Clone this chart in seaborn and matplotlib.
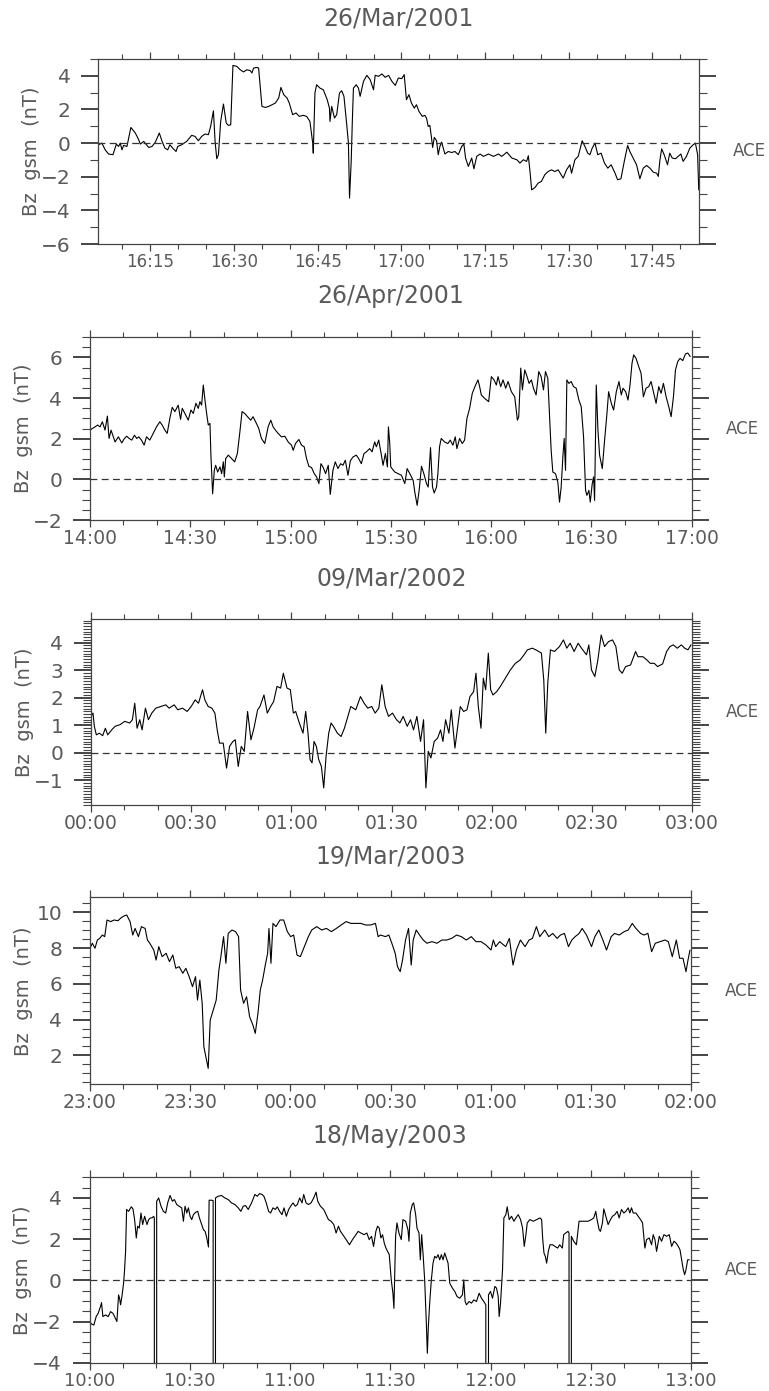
import numpy as np
import pandas as pd
import matplotlib
matplotlib.use("Agg")
import matplotlib.pyplot as plt
from matplotlib.ticker import MultipleLocator, FuncFormatter
import seaborn as sns

# ---------------- data (minutes after the start hour, Bz gsm in nT) ----------------
titles = ["26/Mar/2001", "26/Apr/2001", "09/Mar/2002", "19/Mar/2003", "18/May/2003"]
base_hours = [16, 14, 0, 23, 10]
FILL = -999.9

p1_t = [5.7, 6.3, 6.9, 7.5, 8.3, 8.9, 9.3, 9.6, 9.9, 10.2, 10.8, 11.5, 12.3, 12.9, 13.2, 13.8, 14.7, 15.3, 15.9,
        16.6, 17.1, 17.6, 18.1, 18.5, 19.0, 19.6, 19.9, 20.6, 21.5, 22.4, 23.0, 23.6, 24.2, 24.8, 25.4, 25.8,
        26.3, 26.6, 26.9, 27.2, 27.6, 28.1, 28.6, 29.0, 29.4, 29.8, 30.5, 31.1, 31.7, 32.3, 32.9, 33.2, 33.5,
        34.1, 34.4, 35.0, 35.6, 36.2, 36.8, 37.4, 38.0, 38.4, 38.9, 39.5, 39.9, 40.5, 41.1, 41.7, 42.4, 43.0,
        43.6, 44.1, 44.2, 44.5, 44.8, 45.4, 46.0, 46.7, 47.1, 47.2, 47.5, 48.0, 48.4, 48.9, 49.3, 49.7, 50.2,
        50.5, 50.7, 51.0, 51.2, 51.4, 51.9, 52.3, 52.6, 53.2, 53.8, 54.4, 55.0, 55.3, 55.9, 56.5, 57.1, 57.7,
        58.3, 58.9, 59.45, 60.05, 60.5, 60.9, 61.35, 61.8, 62.3, 62.7, 63.15, 63.75, 64.2, 64.5, 64.8, 65.1,
        65.4, 65.6, 65.9, 66.3, 66.6, 66.9, 67.2, 67.8, 68.4, 69.0, 69.6, 70.2, 70.8, 71.2, 71.5, 72.0, 72.6,
        73.0, 73.5, 74.1, 74.7, 75.6, 76.5, 77.4, 78.0, 78.9, 79.8, 80.7, 81.25, 81.85, 82.45, 82.75, 83.05,
        83.35, 83.95, 84.5, 85.1, 85.7, 86.3, 86.9, 87.5, 88.1, 89.0, 89.6, 90.2, 90.5, 91.1, 91.7, 92.0, 92.4,
        92.9, 93.4, 93.8, 94.2, 94.7, 95.2, 95.8, 96.4, 97.0, 97.6, 98.3, 98.75, 99.35, 99.95, 100.55, 100.95,
        101.55, 102.15, 102.75, 103.35, 103.95, 104.55, 105.15, 105.75, 106.05, 106.35, 106.65, 107.1, 107.7,
        108.1, 108.55, 109.15, 109.6, 110.1, 110.5, 111.1, 111.7, 112.3, 112.7, 113.1, 113.3]
p1_bz = [-0.10, 0.0, -0.40, -0.65, -0.69, -0.06, -0.20, 0.0, -0.40, -0.14, -0.20, 0.93, 0.60, 0.20, -0.06, 0.10,
         -0.26, -0.20, 0.06, 0.60, 0.10, -0.30, -0.40, -0.10, -0.30, -0.50, -0.20, -0.10, 0.10, 0.46, 0.40, 0.14,
         0.40, 0.54, 0.50, 0.99, 1.92, 0.10, -0.93, -0.69, 1.29, 2.32, 1.19, 1.05, 1.09, 4.62, 4.56, 4.36, 4.23,
         4.36, 4.31, 4.17, 4.46, 4.50, 4.46, 2.18, 2.12, 2.18, 2.28, 2.38, 2.68, 3.31, 2.88, 2.68, 2.38, 1.69,
         1.79, 1.59, 1.65, 1.59, 1.29, 0.0, -0.60, 2.98, 3.47, 3.27, 3.17, 2.58, 2.08, 1.29, 2.18, 1.49, 1.69,
         2.98, 3.11, 2.78, 1.09, 0.0, -3.27, -1.09, 1.29, 3.27, 3.47, 3.27, 2.78, 3.67, 4.03, 3.77, 3.17, 4.03,
         3.97, 4.11, 3.91, 4.03, 3.67, 3.43, 3.87, 3.83, 4.07, 2.58, 2.88, 2.38, 2.08, 2.28, 1.88, 1.59, 1.65,
         1.49, 0.99, 1.05, 0.30, -0.26, 0.34, 0.14, -0.69, -0.20, 0.06, -0.65, -0.50, -0.56, -0.50, -0.69, -0.20,
         -0.06, -0.89, -1.39, -0.89, -1.53, -0.79, -0.65, -0.79, -0.65, -0.79, -0.65, -0.79, -0.54, -0.89, -0.99,
         -1.19, -0.99, -1.09, -0.75, -1.69, -2.78, -2.64, -2.38, -2.28, -1.88, -1.69, -1.59, -1.69, -1.59, -2.08,
         -1.59, -1.29, -1.79, -0.99, -0.79, -0.40, 0.14, -0.20, -0.60, -0.69, -0.30, 0.0, -0.69, -0.60, -1.19,
         -1.49, -1.29, -1.79, -2.18, -2.12, -1.09, -0.14, -0.50, -0.89, -1.29, -2.12, -1.49, -1.33, -1.49, -1.73,
         -1.79, -1.98, -0.99, -0.34, -0.69, -1.29, -0.60, -0.89, -0.93, -0.79, -0.65, -1.09, -0.79, -0.30, -0.10,
         0.0, -0.69, -2.78]

p2_t = [0.0, 0.7, 1.5, 2.3, 3.0, 3.7, 4.5, 5.2, 5.7, 6.3, 7.0, 7.5, 8.5, 9.5, 10.3, 11.0, 11.7, 12.5, 13.3, 14.0,
        14.6, 15.4, 16.2, 16.9, 17.9, 18.9, 19.9, 20.9, 21.6, 22.4, 23.1, 23.9, 24.6, 25.4, 26.4, 27.1, 27.6,
        28.4, 29.4, 30.2, 30.9, 31.7, 32.4, 32.9, 33.4, 33.9, 34.4, 34.9, 35.4, 35.9, 36.2, 36.7, 37.2, 37.6,
        38.2, 38.9, 39.4, 39.9, 40.2, 40.6, 41.4, 42.4, 43.3, 44.1, 44.8, 45.5, 46.3, 47.3, 48.1, 48.8, 49.8,
        50.5, 51.3, 52.3, 53.3, 54.1, 54.8, 55.5, 56.3, 57.3, 58.3, 59.3, 60.3, 60.8, 61.5, 62.5, 63.3, 64.1,
        64.8, 65.5, 66.3, 67.1, 67.8, 68.5, 69.1, 69.8, 70.5, 71.3, 71.9, 72.7, 73.4, 74.2, 75.0, 75.7, 76.4,
        77.2, 77.9, 78.7, 79.7, 80.4, 81.2, 82.0, 82.7, 83.7, 84.4, 85.2, 85.7, 86.4, 87.2, 87.7, 88.4, 89.0,
        89.3, 89.7, 90.0, 91.2, 92.2, 93.2, 94.2, 94.9, 95.7, 96.7, 97.2, 97.9, 98.5, 99.2, 99.9, 100.7, 101.2,
        101.9, 102.5, 103.0, 103.7, 104.1, 104.6, 105.1, 106.1, 107.1, 107.8, 108.6, 109.3, 109.8, 110.6, 111.4,
        112.1, 112.8, 113.6, 114.4, 115.4, 116.1, 116.6, 117.1, 118.1, 119.3, 120.1, 120.9, 121.6, 122.1, 122.9,
        123.6, 124.4, 125.1, 126.1, 127.1, 127.9, 128.3, 128.9, 129.4, 130.1, 130.8, 131.4, 132.1, 132.7, 133.5,
        134.3, 135.0, 135.7, 136.3, 137.0, 137.5, 138.0, 138.5, 139.3, 140.0, 140.5, 141.0, 141.5, 141.9, 142.3,
        142.7, 143.3, 144.0, 144.7, 145.5, 146.3, 147.0, 147.7, 148.3, 148.7, 149.3, 149.7, 150.3, 150.7, 151.0,
        151.5, 152.0, 152.5, 153.3, 154.0, 154.7, 155.2, 156.0, 156.7, 157.5, 158.3, 159.0, 159.5, 160.3, 161.0,
        161.6, 162.2, 162.7, 163.4, 164.2, 164.9, 165.6, 166.4, 167.2, 167.9, 168.6, 169.4, 170.2, 170.9, 171.6,
        172.4, 173.2, 173.9, 174.6, 175.2, 175.9, 176.6, 177.4, 178.2, 178.9, 179.6]
p2_bz = [2.42, 2.50, 2.58, 2.67, 2.58, 2.83, 2.42, 3.11, 2.01, 2.42, 2.09, 1.84, 2.09, 1.79, 2.01, 2.12, 2.01, 1.93,
         2.17, 2.01, 2.09, 1.93, 1.68, 2.09, 1.93, 2.26, 2.58, 2.83, 2.67, 2.42, 2.26, 3.00, 3.54, 3.33, 3.65, 2.95,
         3.49, 3.24, 2.91, 3.41, 3.24, 3.74, 3.49, 3.82, 3.65, 4.64, 3.90, 3.24, 2.67, 2.75, 1.10, -0.71, 0.44,
         0.69, 0.36, 0.61, 0.28, 0.86, 0.12, 1.02, 1.19, 1.02, 0.86, 1.27, 2.26, 3.33, 3.24, 3.05, 2.91, 3.08,
         2.75, 2.50, 2.01, 1.76, 2.58, 2.91, 2.58, 2.42, 2.26, 2.09, 2.12, 1.84, 1.68, 1.43, 1.76, 1.96, 1.68,
         1.60, 1.02, 0.64, 0.58, 0.28, 0.12, -0.21, 0.77, 0.58, 0.28, 0.69, -0.74, 0.44, 0.86, 0.53, 0.77, 0.69,
         0.94, 0.20, 0.91, 1.10, 1.19, 1.02, 0.77, 1.27, 1.35, 1.51, 1.35, 1.84, 1.60, 1.93, 1.19, 0.69, 1.27,
         0.61, 2.58, 1.76, 0.61, 0.36, 0.28, 0.20, -0.21, 0.53, 0.28, -0.05, -0.63, -1.28, -0.54, 0.64, 0.28,
         -0.21, -0.38, 1.56, -0.38, -0.67, -0.38, 0.28, 1.60, 2.01, 1.84, 1.76, 1.93, 1.68, 2.09, 1.51, 2.01,
         1.76, 1.93, 3.00, 3.49, 4.23, 4.64, 4.89, 4.56, 4.15, 3.98, 3.82, 5.05, 4.89, 4.64, 5.05, 4.56, 4.89,
         4.48, 4.81, 4.31, 4.06, 2.91, 3.08, 5.47, 4.40, 5.38, 5.05, 4.72, 4.89, 4.48, 4.15, 5.30, 5.05, 4.40,
         5.30, 4.97, 3.24, 1.43, 0.36, 0.28, -0.13, -1.12, -0.38, 1.10, 2.01, 0.44, 4.89, 4.72, 4.81, 4.56, 4.48,
         3.90, 3.57, 2.09, -0.54, -0.79, -0.54, -1.12, -0.21, 0.12, -1.04, 4.64, 2.42, 1.19, 0.53, 1.93, 3.24,
         4.31, 3.74, 3.41, 4.31, 4.81, 4.15, 4.48, 4.31, 3.90, 4.64, 5.71, 6.12, 5.95, 5.55, 5.22, 4.06, 4.48,
         4.56, 4.81, 4.31, 3.74, 4.56, 4.23, 4.72, 4.06, 3.57, 3.08, 4.06, 5.38, 5.80, 5.95, 5.84, 6.17, 6.21,
         6.04]

p3_t = [0.0, 0.6, 1.0, 1.6, 2.5, 3.5, 4.3, 5.0, 6.2, 7.2, 8.7, 10.1, 11.6, 12.4, 13.1, 13.8, 14.6, 15.3, 16.3,
        17.2, 18.2, 19.4, 20.9, 22.4, 23.4, 24.9, 26.0, 27.4, 28.8, 30.0, 31.2, 32.2, 33.4, 34.1, 35.1, 36.2,
        37.1, 37.8, 38.5, 39.6, 40.6, 41.5, 42.5, 43.2, 44.1, 45.0, 45.9, 46.9, 47.9, 48.8, 49.9, 50.6, 51.8,
        52.8, 53.8, 54.7, 55.7, 56.8, 57.6, 58.7, 59.7, 60.6, 61.3, 62.4, 63.5, 64.3, 65.0, 65.6, 66.2, 66.8,
        67.5, 68.2, 69.0, 69.7, 70.4, 71.2, 71.9, 72.6, 73.8, 74.9, 75.9, 76.8, 77.8, 79.3, 80.7, 81.8, 82.9,
        84.1, 85.1, 86.2, 87.1, 88.1, 89.1, 90.3, 91.5, 92.5, 93.5, 94.7, 95.7, 96.6, 97.6, 98.7, 99.6, 100.3,
        101.0, 101.8, 102.8, 103.8, 104.7, 105.4, 106.2, 107.2, 107.9, 109.0, 109.7, 110.6, 111.6, 112.6, 113.5,
        114.6, 115.3, 116.0, 116.8, 117.5, 118.2, 119.0, 119.7, 120.4, 121.5, 122.6, 124.1, 125.6, 127.1, 128.5,
        129.7, 130.7, 132.2, 133.7, 134.9, 135.6, 136.2, 136.8, 137.6, 138.8, 140.3, 141.5, 142.5, 143.5, 144.7,
        145.9, 146.9, 148.4, 149.1, 149.9, 150.9, 151.8, 152.8, 153.8, 155.0, 156.2, 157.2, 158.2, 159.1, 160.1,
        161.6, 163.1, 163.8, 165.3, 166.5, 167.5, 168.7, 169.7, 171.2, 172.4, 173.4, 174.4, 175.6, 176.8, 177.8,
        178.8, 179.7]
p3_bz = [1.32, 1.44, 0.96, 0.65, 0.71, 0.62, 0.89, 0.65, 0.83, 0.96, 1.02, 1.14, 1.08, 1.20, 1.80, 0.89, 1.20, 0.83,
         1.62, 1.20, 1.44, 1.62, 1.68, 1.74, 1.62, 1.74, 1.56, 1.62, 1.50, 1.68, 1.92, 1.80, 2.29, 1.92, 1.68, 1.62,
         1.44, 0.83, 0.35, 0.35, -0.56, 0.23, 0.41, 0.47, -0.50, 0.23, 0.05, 1.50, 0.47, 0.89, 1.56, 1.68, 2.10,
         1.44, 1.68, 1.86, 2.41, 2.35, 2.89, 2.35, 2.29, 1.44, 1.50, 1.08, 0.71, 1.50, 0.71, -0.25, -0.37, 0.41,
         0.23, -0.25, -0.50, -1.28, -0.13, 0.71, 1.08, 0.96, 0.71, 0.59, 0.89, 1.26, 1.68, 1.56, 2.04, 1.80, 1.62,
         1.68, 1.44, 1.62, 2.47, 1.68, 1.32, 1.44, 1.20, 1.08, 1.32, 0.96, 1.20, 0.83, 1.32, 0.41, 1.20, -1.28,
         0.05, -0.19, 0.41, 0.53, 0.83, 0.41, 1.20, 0.71, 1.56, 0.17, 0.83, 1.68, 1.50, 1.56, 2.04, 2.22, 2.89,
         1.68, 0.89, 2.71, 2.29, 3.62, 2.29, 2.10, 2.22, 2.41, 2.71, 3.01, 3.25, 3.37, 3.56, 3.74, 3.80, 3.71,
         3.62, 2.65, 0.71, 2.53, 3.74, 3.68, 3.86, 4.10, 3.80, 3.98, 3.68, 3.98, 3.80, 3.56, 3.92, 3.01, 2.77,
         3.37, 4.28, 3.86, 4.04, 4.10, 3.86, 3.01, 2.89, 3.13, 3.19, 3.68, 3.49, 3.49, 3.37, 3.25, 3.25, 3.13,
         3.23, 3.68, 3.86, 3.92, 3.80, 3.92, 3.80, 3.74, 3.92]

p4_t = [0.0, 0.7, 1.5, 2.2, 2.9, 3.7, 4.4, 5.1, 6.2, 7.2, 8.4, 9.1, 10.1, 11.0, 12.0, 12.8, 13.5, 14.5, 15.4, 16.5,
        17.2, 17.9, 19.1, 19.8, 20.6, 21.6, 22.8, 23.8, 24.8, 25.7, 26.7, 27.8, 28.7, 29.7, 30.7, 31.6, 32.2,
        32.9, 33.6, 34.1, 34.8, 35.4, 36.0, 36.6, 37.8, 38.6, 39.2, 40.0, 40.7, 41.4, 42.5, 43.6, 44.5, 45.1,
        46.0, 46.9, 47.8, 48.8, 49.5, 50.3, 51.0, 51.7, 52.5, 53.2, 53.6, 54.2, 54.8, 55.7, 56.9, 58.0, 59.1,
        60.1, 61.0, 62.0, 63.0, 64.2, 65.4, 66.4, 67.9, 69.4, 70.8, 72.3, 73.8, 75.2, 76.7, 78.2, 79.6, 81.1,
        82.6, 84.0, 85.5, 86.3, 87.0, 88.5, 89.5, 90.4, 91.4, 92.1, 92.9, 93.6, 94.5, 95.4, 96.2, 96.8, 97.7,
        98.7, 99.8, 100.9, 102.4, 103.9, 105.4, 106.8, 108.3, 109.8, 111.2, 112.7, 114.2, 115.6, 117.1, 118.6,
        120.1, 120.8, 121.5, 122.7, 124.5, 125.6, 126.7, 127.7, 128.9, 130.3, 131.5, 132.5, 133.7, 134.7, 136.2,
        137.4, 138.6, 139.9, 140.9, 142.1, 143.3, 144.3, 145.3, 146.5, 147.4, 148.7, 150.2, 151.2, 152.4, 153.6,
        154.7, 156.1, 157.1, 158.5, 160.0, 161.2, 162.4, 163.5, 164.9, 165.9, 167.1, 168.2, 169.3, 170.7, 172.2,
        173.2, 174.4, 175.6, 176.6, 177.6, 178.5, 179.1, 179.7]
p4_bz = [7.99, 8.27, 7.99, 8.45, 8.54, 8.73, 8.64, 9.57, 9.48, 9.57, 9.53, 9.66, 9.79, 9.85, 9.48, 8.73, 9.10, 8.64,
         9.20, 9.10, 8.45, 8.27, 7.89, 7.33, 8.08, 7.52, 7.71, 7.24, 7.61, 6.87, 6.96, 6.59, 6.87, 6.40, 5.84, 6.40,
         5.09, 6.21, 4.91, 2.48, 1.83, 1.27, 3.97, 4.35, 5.09, 6.77, 7.52, 8.64, 7.15, 8.82, 9.01, 8.92, 8.64,
         5.65, 4.91, 5.28, 4.16, 3.69, 3.23, 4.35, 5.65, 6.21, 7.05, 7.71, 9.10, 7.15, 9.38, 9.20, 9.57, 9.57,
         8.92, 8.64, 8.73, 7.61, 7.52, 8.08, 8.64, 9.01, 9.20, 9.01, 9.10, 8.92, 9.10, 9.29, 9.48, 9.38, 9.38,
         9.38, 9.29, 9.29, 9.38, 8.64, 8.73, 8.64, 8.73, 8.27, 7.71, 6.96, 6.68, 7.33, 8.45, 9.10, 7.05, 8.45,
         9.01, 8.73, 8.45, 8.27, 8.36, 8.27, 8.45, 8.45, 8.54, 8.73, 8.64, 8.45, 8.64, 8.36, 8.36, 8.17, 7.89,
         8.45, 8.08, 8.36, 8.08, 8.54, 7.05, 7.89, 8.45, 8.08, 8.45, 8.54, 9.20, 8.64, 9.01, 8.64, 8.82, 8.54,
         8.73, 8.82, 8.08, 8.45, 8.64, 8.82, 9.10, 8.73, 8.08, 8.64, 9.01, 8.45, 7.89, 8.64, 8.82, 8.73, 8.92,
         9.01, 9.38, 9.10, 8.82, 8.73, 8.82, 7.80, 8.27, 8.36, 8.45, 8.36, 7.52, 8.45, 7.43, 7.43, 6.68, 7.33,
         7.89]

p5_t = [0.0, 0.6, 1.3, 2.0, 2.6, 3.3, 3.6, 4.0, 4.8, 5.6, 6.3, 7.0, 7.5, 8.2, 8.5, 8.7, 9.0, 9.3, 9.7, 10.2, 10.5,
        10.8, 11.1, 11.7, 12.5, 13.0, 13.5, 14.0, 14.4, 14.9, 15.4, 15.9, 16.5, 17.2, 17.7, 18.2, 18.7, 19.2,
        19.4, 19.5, 20.0, 20.1, 20.7, 21.4, 22.1, 22.8, 23.4, 24.1, 24.8, 25.4, 26.1, 26.8, 27.6, 28.1, 28.6,
        29.1, 29.6, 30.1, 30.6, 31.1, 31.8, 32.4, 32.9, 33.4, 34.1, 34.6, 35.1, 35.6, 35.8, 36.5, 37.0, 37.1,
        37.6, 37.7, 38.5, 39.5, 40.5, 41.5, 42.5, 43.5, 44.5, 45.3, 46.0, 46.7, 47.5, 48.5, 49.5, 50.2, 50.9,
        51.6, 52.2, 52.9, 53.6, 54.2, 54.9, 55.6, 56.2, 56.9, 57.6, 58.2, 58.9, 59.6, 60.2, 60.9, 61.6, 62.2,
        62.9, 63.6, 64.1, 64.8, 65.5, 66.3, 67.1, 67.8, 68.3, 69.1, 70.1, 70.8, 71.5, 72.3, 73.1, 73.8, 74.5,
        75.1, 75.8, 76.8, 77.8, 78.7, 79.7, 80.4, 81.2, 82.2, 83.0, 83.7, 84.4, 85.0, 85.7, 86.2, 86.7, 87.2,
        87.7, 88.2, 88.7, 89.2, 89.7, 90.3, 90.8, 91.1, 91.6, 92.0, 92.6, 93.3, 93.8, 94.6, 95.3, 95.6, 96.0,
        96.6, 97.0, 97.6, 98.0, 98.6, 99.0, 99.4, 99.8, 100.3, 100.8, 101.1, 101.4, 101.8, 102.3, 102.8, 103.3,
        103.8, 104.3, 104.8, 105.3, 105.8, 106.3, 106.8, 107.3, 107.8, 108.6, 109.3, 110.0, 110.8, 111.6, 112.0,
        112.4, 112.8, 113.6, 114.3, 115.0, 115.8, 116.6, 117.3, 118.0, 118.6, 118.8, 119.2, 119.4, 120.0, 120.6,
        121.3, 121.8, 122.3, 122.6, 123.0, 123.6, 124.0, 124.6, 125.0, 125.6, 126.3, 127.0, 127.6, 128.3, 129.0,
        129.6, 130.1, 130.6, 131.0, 131.8, 132.8, 133.8, 134.8, 135.3, 135.6, 136.0, 136.4, 136.8, 137.3, 137.8,
        138.6, 139.3, 140.1, 140.7, 141.5, 141.9, 142.5, 143.2, 143.5, 143.6, 144.0, 144.2, 144.9, 145.7, 146.5,
        147.2, 148.2, 149.2, 150.2, 150.9, 151.5, 151.9, 152.5, 152.9, 153.5, 153.9, 154.5, 155.2, 155.9, 156.5,
        157.2, 157.9, 158.5, 159.2, 159.9, 160.5, 161.2, 161.7, 162.2, 162.7, 163.5, 164.2, 164.9, 165.5, 166.2,
        166.7, 167.5, 168.2, 168.7, 169.2, 169.7, 170.5, 171.2, 171.9, 172.7, 173.5, 174.2, 174.9, 175.5, 176.2,
        176.7, 177.2, 177.7, 178.1, 178.5, 179.0, 179.5]
p5_bz = [-1.99, -2.11, -2.16, -1.75, -1.59, -1.26, -1.07, -1.75, -1.67, -1.75, -1.51, -1.59, -1.75, -1.99, -1.26,
         -0.70, -0.86, -1.18, -0.78, -0.13, 0.52, 1.41, 3.44, 3.35, 3.57, 3.47, 2.95, 2.06, 2.63, 2.54, 3.27, 2.71,
         3.11, 2.71, 2.95, 3.03, 3.03, 3.11, 3.03, FILL, FILL, 3.84, 4.00, 3.60, 3.35, 3.27, 3.76, 4.12, 3.84,
         3.92, 3.68, 3.60, 3.52, 2.87, 3.60, 3.27, 3.52, 3.11, 2.95, 3.19, 3.31, 3.35, 3.03, 2.79, 2.46, 2.38,
         2.06, 1.62, 3.89, 3.89, 3.87, FILL, FILL, 4.00, 4.08, 4.12, 4.00, 3.92, 3.76, 3.68, 3.52, 3.35, 3.60,
         3.63, 3.44, 3.76, 4.17, 4.08, 4.21, 4.17, 4.08, 3.76, 3.35, 3.27, 3.52, 3.44, 3.57, 3.35, 3.19, 3.52,
         3.11, 3.44, 3.60, 3.76, 3.60, 3.68, 4.00, 3.76, 4.17, 3.76, 3.68, 3.76, 4.00, 4.28, 3.84, 3.60, 3.44,
         3.19, 2.95, 2.87, 2.71, 2.30, 2.63, 2.38, 2.22, 1.98, 1.73, 1.98, 2.22, 2.38, 2.30, 2.22, 2.30, 1.98,
         2.14, 1.65, 2.38, 2.63, 2.54, 2.06, 2.22, 1.82, 1.57, 1.41, 1.25, 0.03, -0.62, -1.35, 2.14, 2.79, 2.30,
         1.98, 2.95, 2.87, 2.46, 1.90, 3.27, 3.68, 3.76, 3.19, 2.54, 2.30, 1.00, 2.22, 1.33, 0.03, -2.07, -3.53,
         -2.24, -1.10, 0.03, 0.84, 1.17, 1.09, 1.25, 1.00, 1.25, 1.00, 1.33, 1.09, 0.84, -0.13, -0.37, -0.53,
         -0.78, -0.86, -0.70, 0.03, -1.02, -1.18, -1.02, -1.10, -0.94, -1.02, -0.62, -0.86, -1.02, -1.18, FILL,
         FILL, -0.70, -0.53, -0.86, -0.29, -0.37, -0.78, -1.75, -1.10, 0.52, 3.03, 3.19, 3.57, 2.95, 3.11, 2.87,
         3.03, 3.19, 2.95, 2.54, 1.65, 2.22, 2.79, 2.95, 2.87, 2.95, 3.03, 2.95, 2.06, 1.33, 1.17, 0.84, 1.41,
         1.73, 1.73, 1.65, 1.57, 1.73, 1.57, 2.22, 2.30, 2.38, 2.30, FILL, FILL, 2.14, 1.90, 1.73, 2.87, 2.87,
         2.87, 2.87, 2.95, 3.03, 3.35, 2.95, 2.46, 2.38, 2.79, 3.47, 3.11, 2.71, 2.95, 3.11, 3.19, 3.35, 3.03,
         3.44, 3.27, 3.35, 3.52, 3.27, 3.52, 3.27, 3.27, 3.11, 2.95, 2.79, 1.57, 1.98, 2.06, 1.73, 2.22, 1.98,
         1.41, 2.14, 1.90, 2.22, 2.14, 2.22, 1.65, 1.90, 1.82, 1.65, 1.49, 1.00, 0.52, 0.28, 0.52, 1.00, 1.00]

panel_t = [p1_t, p2_t, p3_t, p4_t, p5_t]
panel_bz = [p1_bz, p2_bz, p3_bz, p4_bz, p5_bz]
xlims = [(5.7, 113.4), (0, 180), (0, 180), (0, 180), (0, 180)]
ylims = [(-6, 5), (-2, 7), (-1.9, 4.85), (0.38, 10.84), (-4, 5)]
y_major = [2, 2, 1, 2, 2]
y_minor = [1, 0.5, 0.1, 0.5, 0.5]
x_major = [15, 30, 30, 30, 30]
x_minor = [5, 10, 10, 10, 10]
zero_line = [True, True, True, False, True]
ylabel = "Bz  gsm  (nT)"
station = "ACE"

# ---------------- layout (pixels of a 769x1391 figure) ----------------
W, H = 769, 1391
boxes = [(98.5, 699.3, 59, 244), (90, 691.5, 337, 520), (91, 692, 619.3, 805),
         (90, 691, 897.3, 1084.3), (89.5, 691, 1177.3, 1363)]
xtick_fs = [12, 13.5, 13.5, 13.5, 13]

sns.set_style("ticks")
plt.rcParams["font.family"] = ["DejaVu Sans"]
TXT = "#5a5a5a"
FRAME = "#444444"

fig = plt.figure(figsize=(W / 100, H / 100), dpi=100)
fig.patch.set_facecolor("white")

for i in range(5):
    l, r, t, b = boxes[i]
    ax = fig.add_axes([l / W, 1 - b / H, (r - l) / W, (b - t) / H])
    df = pd.DataFrame({"t": panel_t[i], "bz": panel_bz[i]})
    sns.lineplot(data=df, x="t", y="bz", ax=ax, color="black", linewidth=0.8,
                 estimator=None, sort=False)
    if zero_line[i]:
        ax.axhline(0, color="#333333", lw=0.9, ls=(0, (5.5, 3.5)))
    ax.set_xlim(*xlims[i])
    ax.set_ylim(*ylims[i])
    base = base_hours[i]
    ax.xaxis.set_major_locator(MultipleLocator(x_major[i]))
    ax.xaxis.set_minor_locator(MultipleLocator(x_minor[i]))
    ax.xaxis.set_major_formatter(FuncFormatter(
        lambda v, p, base=base: "%02d:%02d" % ((base + int(round(v)) // 60) % 24, int(round(v)) % 60)))
    ax.yaxis.set_major_locator(MultipleLocator(y_major[i]))
    ax.yaxis.set_minor_locator(MultipleLocator(y_minor[i]))
    ax.set_xlabel("")
    ax.set_ylabel(ylabel, fontsize=14, color=TXT)
    ax.yaxis.set_label_coords(-57 / (r - l), 0.5)
    for s in ax.spines.values():
        s.set_visible(True)
        s.set_color(FRAME)
        s.set_linewidth(0.9)
    ax.tick_params(axis="x", which="both", direction="out", top=True, bottom=True,
                   colors=FRAME, labelcolor=TXT, labelsize=xtick_fs[i])
    ax.tick_params(axis="x", which="major", length=5, width=0.9, pad=1.5)
    ax.tick_params(axis="x", which="minor", length=3.5, width=0.8)
    ax.tick_params(axis="y", which="both", direction="out", left=True, right=True,
                   colors=FRAME, labelcolor=TXT, labelsize=14.5)
    ax.tick_params(axis="y", which="major", length=12, width=1.4, pad=8)
    ax.tick_params(axis="y", which="minor", length=6, width=0.8)
    ax.set_title("")
    ax.text(0.5, 1 + 41 / (b - t), titles[i], transform=ax.transAxes, ha="center", va="center",
            fontsize=17, color=TXT)
    ax.text(1 + 34 / (r - l), 0.5, station, transform=ax.transAxes, ha="left", va="center",
            fontsize=12, color=TXT)

fig.savefig("out.png", dpi=100, facecolor="white")
